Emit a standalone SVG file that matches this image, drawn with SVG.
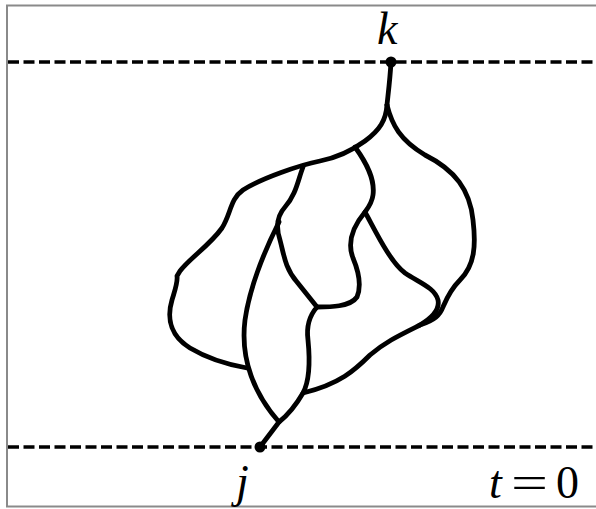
<svg xmlns="http://www.w3.org/2000/svg" width="596" height="509" viewBox="0 0 596 509">
<style>
.frame{fill:none;stroke:#8a8a8a;stroke-width:2}
.dash{fill:none;stroke:#000;stroke-width:3.5;stroke-dasharray:11 4.5}
.edge{fill:none;stroke:#000;stroke-width:4.8;stroke-linecap:round;stroke-linejoin:round}
.dot{fill:#000}
.lbl{font-family:"Liberation Serif","DejaVu Serif",serif;font-size:46px;fill:#000}
.it{font-style:italic}
</style>
<rect width="596" height="509" fill="#fff"/>
<rect class="frame" x="7" y="5.5" width="600" height="501"/>
<line class="dash" x1="8" y1="62" x2="596" y2="62"/>
<line class="dash" x1="8" y1="447" x2="596" y2="447"/>
<g id="connectors">
<path class="edge" d="M391,62 C390,80 388,95 387,105"/>
<path class="edge" d="M387,105 C386,120 380,130 365,141 C350,152 335,158 320,161 C300,165 262,178 243,190 C230,199 231,214 222,228 C210,245 190,258 180,271 L177,276 C178,282 175,290 172,300 C166,320 172,337 190,348 C210,360 230,365 247,368"/>
<path class="edge" d="M303,167 C298,180 296,195 285,207 C276,217 276,228 280,240 C284,255 285,268 297,282 L317,307"/>
<path class="edge" d="M279,222 C265,250 250,285 245,320 C240,360 255,395 279,422"/>
<path class="edge" d="M317,307 C310,315 306,325 308,340 C310,360 310,380 303,393 C296,405 288,415 279,422 L260,447"/>
<path class="edge" d="M317,307 C330,307 350,307 357,297 C362,285 358,270 353,258 C348,245 350,230 365,212"/>
<path class="edge" d="M355,147 C368,165 375,180 373,195 C372,203 368,208 365,212 C375,230 390,262 405,273 C420,283 435,288 438,300 C440,310 432,318 420,325 C400,335 385,342 370,355 C355,370 340,384 303,393"/>
<path class="edge" d="M387,105 C392,125 400,140 425,155 C455,170 470,190 473,220 C476,245 475,265 460,280 C450,290 446,300 443,307 C440,315 435,320 420,325"/>
</g>
<g id="node-k">
<circle class="dot" cx="391" cy="62" r="5.5"/>
<text class="lbl it" x="377" y="44">k</text>
</g>
<g id="node-j">
<circle class="dot" cx="260" cy="447" r="5.5"/>
<text class="lbl it" x="236" y="497">j</text>
</g>
<g id="label-t0">
<text class="lbl" y="498"><tspan class="it" x="489">t</tspan><tspan x="511" textLength="37" lengthAdjust="spacingAndGlyphs">=</tspan><tspan x="556">0</tspan></text>
</g>
</svg>
